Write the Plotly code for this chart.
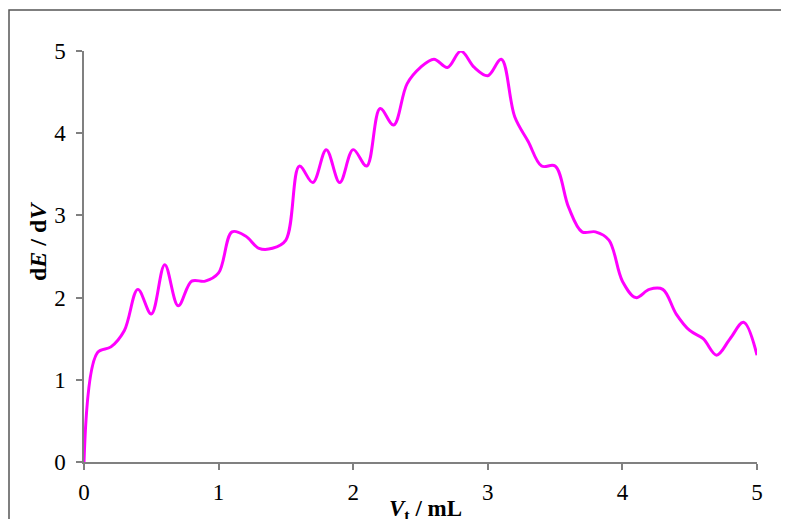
import plotly.graph_objects as go

volume_ml = [0.0, 0.1, 0.2, 0.3, 0.4, 0.5, 0.6, 0.7, 0.8, 0.9,
             1.0, 1.1, 1.2, 1.3, 1.4, 1.5, 1.6, 1.7, 1.8, 1.9,
             2.0, 2.1, 2.2, 2.3, 2.4, 2.5, 2.6, 2.7, 2.8, 2.9,
             3.0, 3.1, 3.2, 3.3, 3.4, 3.5, 3.6, 3.7, 3.8, 3.9,
             4.0, 4.1, 4.2, 4.3, 4.4, 4.5, 4.6, 4.7, 4.8, 4.9, 5.0]
dE_dV = [0.0, 1.33, 1.4, 1.6, 2.1, 1.8, 2.4, 1.9, 2.2, 2.2,
         2.3, 2.8, 2.75, 2.6, 2.6, 2.7, 3.6, 3.4, 3.8, 3.4,
         3.8, 3.6, 4.3, 4.1, 4.6, 4.8, 4.9, 4.8, 5.0, 4.8,
         4.7, 4.9, 4.2, 3.9, 3.6, 3.6, 3.1, 2.8, 2.8, 2.7,
         2.2, 2.0, 2.1, 2.1, 1.8, 1.6, 1.5, 1.3, 1.5, 1.7, 1.3]
x_ticks = [0, 1, 2, 3, 4, 5]
y_ticks = [0, 1, 2, 3, 4, 5]

# page body has an 8px margin, so work in page pixels minus 8
OFF = 8
W, H = 789 - OFF, 519 - OFF
ml, mt = 84 - OFF, 51 - OFF
mr = W - (757 - OFF)
mb = H - (462 - OFF)
pw, ph = W - ml - mr, H - mt - mb

def px_x(p):
    return (p - OFF - ml) / pw

def px_y(p):
    return (H - mb - (p - OFF)) / ph

fig = go.Figure()
fig.add_trace(go.Scatter(
    x=volume_ml, y=dE_dV, mode="lines",
    line=dict(color="#FF00FF", width=3, shape="spline", smoothing=1.0),
    showlegend=False, hoverinfo="skip",
))

axis_common = dict(
    showgrid=False, zeroline=False, showline=True, linecolor="#808080", linewidth=1.5,
    ticks="outside", ticklen=6, tickwidth=1.5, tickcolor="#808080",
    tickfont=dict(family="Liberation Serif", size=23, color="#000"),
)
fig.update_xaxes(range=[0, 5], tickvals=x_ticks, ticklabelstandoff=3, **axis_common)
fig.update_yaxes(range=[0, 5], tickvals=y_ticks, ticklabelstandoff=6, **axis_common)

fig.add_shape(type="rect", xref="paper", yref="paper",
              x0=px_x(9), x1=px_x(820), y0=px_y(560), y1=px_y(10),
              line=dict(color="#555555", width=1.5), fillcolor="rgba(0,0,0,0)", layer="below")

fig.add_annotation(xref="paper", yref="paper", x=px_x(38), y=px_y(242),
                   text="<b>d<i>E</i> / d<i>V</i></b>", textangle=-90, showarrow=False,
                   font=dict(family="Liberation Serif", size=24, color="#000"),
                   xanchor="center", yanchor="middle")
fig.add_annotation(xref="paper", yref="paper", x=px_x(425), y=px_y(510),
                   text="<b><i>V</i><sub>t</sub> / mL</b>", showarrow=False,
                   font=dict(family="Liberation Serif", size=23, color="#000"),
                   xanchor="center", yanchor="middle")

fig.update_layout(
    width=W, height=H, margin=dict(l=ml, r=mr, t=mt, b=mb),
    paper_bgcolor="white", plot_bgcolor="white",
)
fig.write_html("out.html")
